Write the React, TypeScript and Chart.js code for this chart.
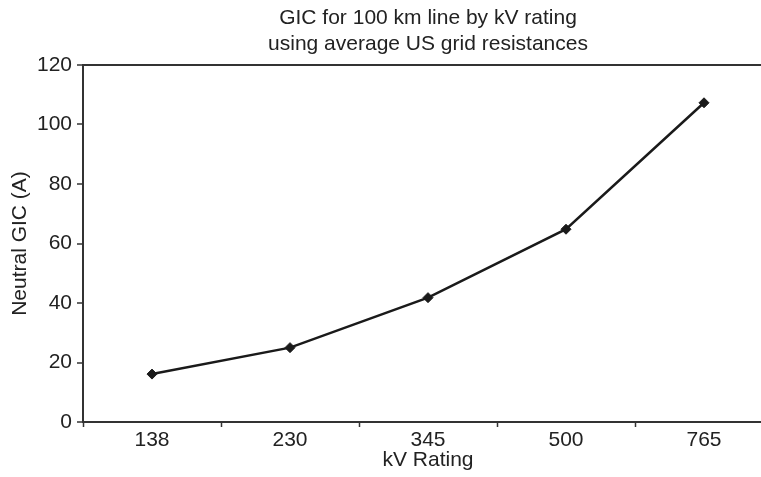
import React, { useEffect, useRef } from "react";
import { Chart, registerables } from "chart.js";

Chart.register(...registerables);

const categories = ["138", "230", "345", "500", "765"];
const gicValues = [16.1, 25.0, 41.8, 64.8, 107.3];
const titleLines = ["GIC for 100 km line by kV rating", "using average US grid resistances"];
const xTitle = "kV Rating";
const yTitle = "Neutral GIC (A)";
const yMin = 0;
const yMax = 120;
const yStep = 20;

const FONT = '"Liberation Sans", Arial, sans-serif';
const INK = "#222222";
const TITLE_SIZE = 21;
const TITLE_LINE = 25.2;
const TITLE_TOP = 6;

const plotTitlePlugin = {
  id: "plotTitle",
  afterDraw(chart: any) {
    const { ctx, chartArea } = chart;
    const cx = (chartArea.left + chartArea.right) / 2;
    ctx.save();
    ctx.fillStyle = INK;
    ctx.font = `${TITLE_SIZE}px ${FONT}`;
    ctx.textAlign = "center";
    ctx.textBaseline = "middle";
    titleLines.forEach((line, i) => {
      ctx.fillText(line, cx, TITLE_TOP + TITLE_LINE / 2 + i * TITLE_LINE);
    });
    ctx.restore();
  },
};

export default function App() {
  const canvasRef = useRef<HTMLCanvasElement | null>(null);

  useEffect(() => {
    const canvas = canvasRef.current;
    if (!canvas) return;
    const chart = new Chart(canvas, {
      type: "line",
      data: {
        labels: categories,
        datasets: [
          {
            label: "GIC",
            data: gicValues,
            borderColor: "#1a1a1a",
            backgroundColor: "#1a1a1a",
            borderWidth: 2.5,
            pointStyle: "rectRot",
            pointRadius: 5,
            pointBorderWidth: 1,
            pointBackgroundColor: "#1a1a1a",
            pointBorderColor: "#1a1a1a",
            tension: 0,
            fill: false,
          },
        ],
      },
      plugins: [plotTitlePlugin],
      options: {
        responsive: false,
        animation: false,
        devicePixelRatio: 1,
        layout: { padding: { left: 0, right: 83, top: 65, bottom: 0 } },
        plugins: {
          legend: { display: false },
          tooltip: { enabled: false },
          title: { display: false },
        },
        scales: {
          x: {
            type: "category",
            offset: true,
            afterFit: (scale: any) => {
              scale.height = 55;
            },
            border: { display: true, color: "#333333", width: 2 },
            grid: {
              display: true,
              offset: true,
              drawOnChartArea: false,
              drawTicks: true,
              tickLength: 5,
              tickColor: "#333333",
              tickWidth: 1.5,
            },
            ticks: {
              color: INK,
              font: { family: FONT, size: 21 },
              padding: 1,
              maxRotation: 0,
            },
            title: {
              display: true,
              text: xTitle,
              color: INK,
              font: { family: FONT, size: 21, lineHeight: 1.2 },
              padding: { top: 0, bottom: 4 },
            },
          },
          y: {
            min: yMin,
            max: yMax,
            afterFit: (scale: any) => {
              scale.width = 83;
            },
            border: { display: true, color: "#333333", width: 2 },
            grid: {
              display: true,
              drawOnChartArea: true,
              drawTicks: true,
              tickLength: 6,
              color: (ctx: any) => (ctx.tick && ctx.tick.value === yMax ? "#333333" : "rgba(0,0,0,0)"),
              lineWidth: 2,
              tickColor: "#333333",
              tickWidth: 1.5,
            },
            ticks: {
              stepSize: yStep,
              color: INK,
              font: { family: FONT, size: 21 },
              padding: 5,
            },
            title: {
              display: true,
              text: yTitle,
              color: INK,
              font: { family: FONT, size: 21, lineHeight: 1.2 },
              padding: { top: 8, bottom: 0 },
            },
          },
        },
      },
    });
    return () => {
      chart.destroy();
    };
  }, []);

  return (
    <div
      style={{
        position: "fixed",
        left: 0,
        top: 0,
        width: 761,
        height: 477,
        overflow: "hidden",
        background: "#ffffff",
      }}
    >
      <canvas ref={canvasRef} width={856} height={477} style={{ display: "block" }} />
    </div>
  );
}
